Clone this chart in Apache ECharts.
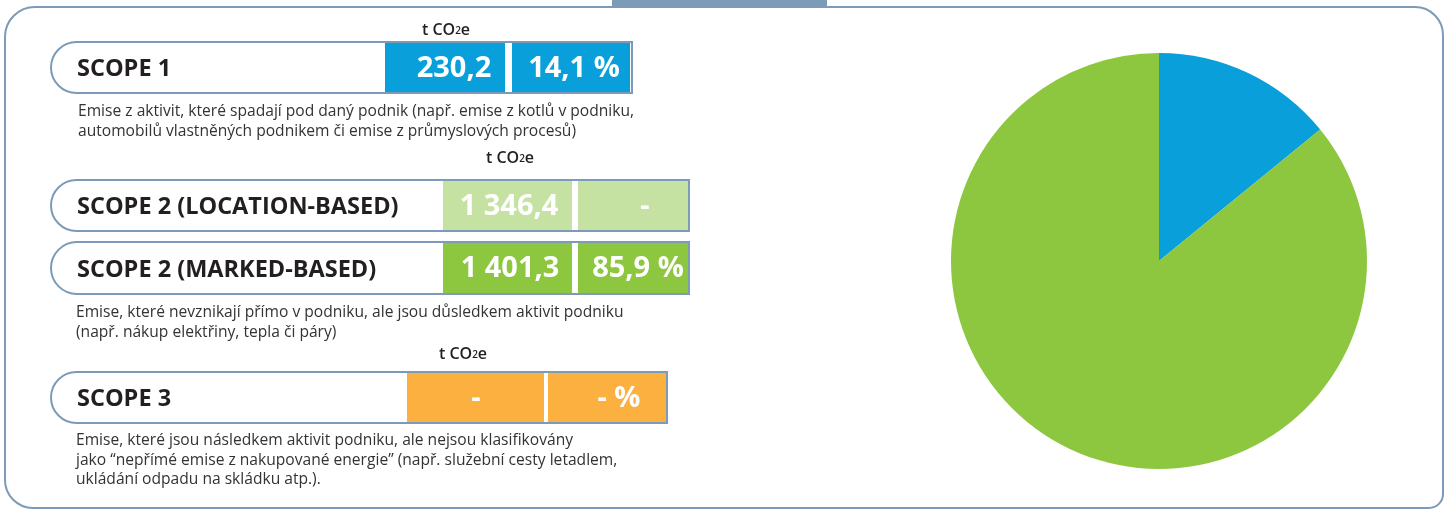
<!DOCTYPE html>
<html>
<head>
<meta charset="utf-8">
<script src="https://cdn.jsdelivr.net/npm/echarts@6/dist/echarts.min.js"></script>
<style>
  html, body { margin: 0; padding: 0; background: #ffffff; }
  #chart { width: 1446px; height: 511px; }
</style>
</head>
<body>
<div id="chart"></div>
<script>
// data
var scopeNames = ['SCOPE 1', 'SCOPE 2 (LOCATION-BASED)', 'SCOPE 2 (MARKED-BASED)', 'SCOPE 3']
var scopeValues = ['230,2', '1 346,4', '1 401,3', '-']
var scopeShares = ['14,1 %', '-', '85,9 %', '- %']
var scopeColors = ['#089fdb', '#c5e2a3', '#8dc63f', '#fbb040']
var descScope1 = [
  'Emise z aktivit, které spadají pod daný podnik (např. emise z kotlů v podniku,',
  'automobilů vlastněných podnikem či emise z průmyslových procesů)'
]
var descScope2 = [
  'Emise, které nevznikají přímo v podniku, ale jsou důsledkem aktivit podniku',
  '(např. nákup elektřiny, tepla či páry)'
]
var descScope3 = [
  'Emise, které jsou následkem aktivit podniku, ale nejsou klasifikovány',
  'jako “nepřímé emise z nakupované energie” (např. služební cesty letadlem,',
  'ukládání odpadu na skládku atp.).'
]
var pieNames = ['SCOPE 1', 'SCOPE 2 (MARKED-BASED)']
var pieValues = [230.2, 1401.3]
var pieColors = ['#089fdb', '#8dc63f']

// layout of the left-hand boxes
var rows = [
  { top: 42, h: 51, right: 632, c1: 385, w1: 120, c2: 512, w2: 118, v: 454, s: 574 },
  { top: 180, h: 51, right: 689, c1: 443, w1: 129, c2: 578, w2: 110, v: 509, s: 645 },
  { top: 242, h: 52, right: 689, c1: 443, w1: 129, c2: 578, w2: 110, v: 510, s: 638 },
  { top: 372, h: 51, right: 667, c1: 407, w1: 137, c2: 548, w2: 118, v: 476, s: 619 }
]
var units = [{ x: 446, y: 30 }, { x: 510, y: 158 }, null, { x: 463, y: 354 }]
var descs = [
  { x: 78, y: 112, lines: descScope1 },
  { x: 76, y: 313, lines: descScope2 },
  { x: 76, y: 441, lines: descScope3 }
]

var border = '#7b9bb8'
var dark = '#231f20'
var boldFont = '"Open Sans", sans-serif'

var graphics = []
// outer frame + tab
graphics.push({
  type: 'rect', shape: { x: 612, y: 0, width: 215, height: 7 },
  style: { fill: border }, z: 1
})
graphics.push({
  type: 'rect', shape: { x: 5, y: 7, width: 1438, height: 501, r: [30, 28, 14, 28] },
  style: { fill: 'none', stroke: border, lineWidth: 2 }, z: 1
})

rows.forEach(function(r, i) {
  var left = 51
  var cy = r.top + r.h / 2 + 1
  graphics.push({
    type: 'rect',
    shape: { x: left, y: r.top, width: r.right - left, height: r.h, r: [26, 0, 0, 26] },
    style: { fill: '#fff', stroke: border, lineWidth: 2 }, z: 2
  })
  graphics.push({
    type: 'rect', shape: { x: r.c1, y: r.top + 1, width: r.w1, height: r.h - 2 },
    style: { fill: scopeColors[i] }, z: 3
  })
  graphics.push({
    type: 'rect', shape: { x: r.c2, y: r.top + 1, width: r.w2, height: r.h - 2 },
    style: { fill: scopeColors[i] }, z: 3
  })
  graphics.push({
    type: 'text', x: 77, y: cy + 1,
    style: {
      text: scopeNames[i], fill: dark, font: 'bold 23.5px ' + boldFont,
      verticalAlign: 'middle', align: 'left'
    }, z: 4
  })
  graphics.push({
    type: 'text', x: r.v, y: cy,
    style: {
      text: scopeValues[i], fill: '#fff', font: 'bold 29px ' + boldFont,
      verticalAlign: 'middle', align: 'center'
    }, z: 4
  })
  graphics.push({
    type: 'text', x: r.s, y: cy,
    style: {
      text: scopeShares[i], fill: '#fff', font: 'bold 29px ' + boldFont,
      verticalAlign: 'middle', align: 'center'
    }, z: 4
  })
  if (units[i]) {
    graphics.push({
      type: 'text', x: units[i].x, y: units[i].y,
      style: {
        text: '{a|t CO}{s|2}{a|e}', verticalAlign: 'middle', align: 'center',
        rich: {
          a: { fontFamily: boldFont, fontWeight: 600, fontSize: 16, fill: dark, color: dark },
          s: { fontFamily: boldFont, fontWeight: 600, fontSize: 10, fill: dark, color: dark, padding: [3, 0, 0, 0] }
        }
      }, z: 4
    })
  }
})

descs.forEach(function(d) {
  d.lines.forEach(function(line, k) {
    graphics.push({
      type: 'text', x: d.x, y: d.y + k * 19.5,
      style: {
        text: line, fill: '#333', font: '15.6px "Open Sans", sans-serif',
        verticalAlign: 'middle', align: 'left'
      }, z: 4
    })
  })
})

var myChart = echarts.init(document.getElementById('chart'))
var option = {
  backgroundColor: '#ffffff',
  animation: false,
  color: pieColors,
  graphic: graphics,
  series: [
    {
      type: 'pie',
      center: [1159, 261],
      radius: 208,
      startAngle: 90,
      clockwise: true,
      label: { show: false },
      labelLine: { show: false },
      emphasis: { disabled: true },
      itemStyle: { borderWidth: 0 },
      data: pieNames.map(function(n, i) {
        return { name: n, value: pieValues[i] }
      })
    }
  ]
}
myChart.setOption(option, true)
</script>
</body>
</html>
